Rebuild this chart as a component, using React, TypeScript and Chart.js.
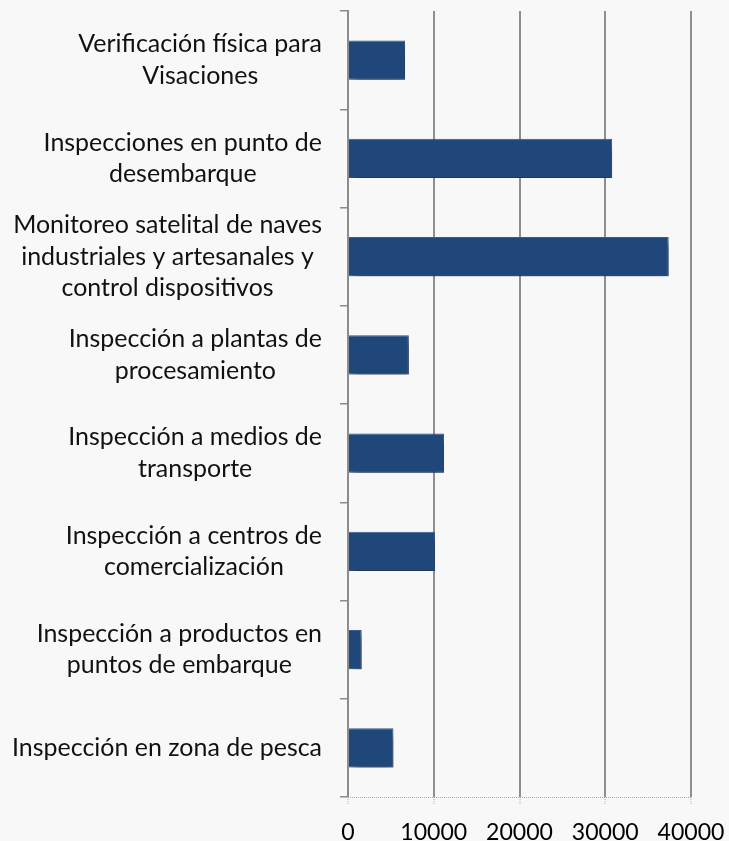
import React, { useEffect, useRef } from "react";
import { Chart, registerables } from "chart.js";

Chart.register(...registerables);

const categories: string[][] = [
  ["Verificación física para", "Visaciones"],
  ["Inspecciones en punto de", "desembarque"],
  ["Monitoreo satelital de naves", "industriales y artesanales y", "control dispositivos"],
  ["Inspección a plantas de", "procesamiento"],
  ["Inspección a medios de", "transporte"],
  ["Inspección a centros de", "comercialización"],
  ["Inspección a productos en", "puntos de embarque"],
  ["Inspección en zona de pesca"],
];

const values: number[] = [6650, 30800, 37400, 7100, 11200, 10150, 1600, 5300];

const xTicks: number[] = [0, 10000, 20000, 30000, 40000];

const FONT = "Lato";

export default function App() {
  const ref = useRef<HTMLCanvasElement | null>(null);

  useEffect(() => {
    if (!ref.current) return;
    const mc = document.createElement("canvas").getContext("2d")!;
    mc.font = `100px ${FONT}`;
    const labelSize = (309 / mc.measureText("Monitoreo satelital de naves").width) * 100;
    const tickSize = (67 / mc.measureText("10000").width) * 100;

    const labelPlugin = {
      id: "blockLabels",
      afterDraw(chart: any) {
        const ctx = chart.ctx;
        const y = chart.scales.y;
        const area = chart.chartArea;
        ctx.save();
        // dotted baseline of the value axis
        ctx.strokeStyle = "#a8a8a8";
        ctx.lineWidth = 1;
        ctx.setLineDash([1, 1]);
        ctx.beginPath();
        ctx.moveTo(area.left, area.bottom + 0.5);
        ctx.lineTo(area.right, area.bottom + 0.5);
        ctx.stroke();
        ctx.setLineDash([]);

        ctx.font = `${labelSize}px ${FONT}`;
        ctx.fillStyle = "#111";
        ctx.textAlign = "center";
        ctx.textBaseline = "middle";
        const lh = 31.5;
        const right = 322;
        categories.forEach((lines, i) => {
          const cy = y.getPixelForValue(i);
          const widest = Math.max(...lines.map((l) => ctx.measureText(l).width));
          const cx = right - widest / 2;
          const startY = cy - ((lines.length - 1) * lh) / 2;
          lines.forEach((l, j) => ctx.fillText(l, cx, startY + j * lh));
        });
        ctx.restore();
      },
    };

    const shadowPlugin = {
      id: "barShadow",
      beforeDatasetDraw(chart: any) {
        const ctx = chart.ctx;
        ctx.save();
        ctx.shadowColor = "rgba(0,0,0,0.5)";
        ctx.shadowBlur = 9;
        ctx.shadowOffsetX = 3;
        ctx.shadowOffsetY = 6;
      },
      afterDatasetDraw(chart: any) {
        chart.ctx.restore();
      },
    };

    const chart = new Chart(ref.current, {
      type: "bar",
      data: {
        labels: categories.map((c) => c.join(" ")),
        datasets: [
          {
            data: values,
            backgroundColor: "#1F477A",
            borderColor: "#3A5F92",
            borderWidth: 1,
            barPercentage: 0.8,
            categoryPercentage: 0.5,
          },
        ],
      },
      options: {
        indexAxis: "y",
        animation: false,
        responsive: false,
        devicePixelRatio: 1,
        layout: { padding: { top: 11, right: 38, left: 0, bottom: 0 } },
        plugins: { legend: { display: false }, tooltip: { enabled: false } },
        scales: {
          x: {
            min: 0,
            max: 40000,
            afterBuildTicks: (scale: any) => {
              scale.ticks = xTicks.map((v) => ({ value: v }));
            },
            afterFit: (scale: any) => {
              scale.height = 44;
              scale.paddingLeft = 0;
              scale.paddingRight = 0;
            },
            ticks: {
              color: "#000",
              font: { family: FONT, size: tickSize },
              padding: 14,
              maxRotation: 0,
              callback: (v: any) => String(v),
            },
            grid: {
              color: "#8f8f8f",
              lineWidth: 2,
              drawTicks: true,
              tickLength: 8,
              tickColor: "#b0b0b0",
              tickBorderDash: [1, 1],
              tickWidth: 1,
            },
            border: { display: false },
          },
          y: {
            type: "category",
            afterFit: (scale: any) => {
              scale.width = 348;
              scale.paddingTop = 0;
              scale.paddingBottom = 0;
            },
            ticks: { display: false },
            grid: {
              offset: true,
              drawOnChartArea: false,
              drawTicks: true,
              tickLength: 8,
              color: "#8c8c8c",
              lineWidth: 1.5,
            },
            border: { display: true, color: "#8c8c8c", width: 2 },
          },
        },
      },
      plugins: [shadowPlugin, labelPlugin],
    } as any);
    return () => chart.destroy();
  }, []);

  return (
    <div
      style={{
        position: "absolute",
        left: 0,
        top: 0,
        width: 729,
        height: 841,
        background: "#f8f8f8",
      }}
    >
      <canvas ref={ref} width={729} height={841} style={{ display: "block" }} />
    </div>
  );
}
